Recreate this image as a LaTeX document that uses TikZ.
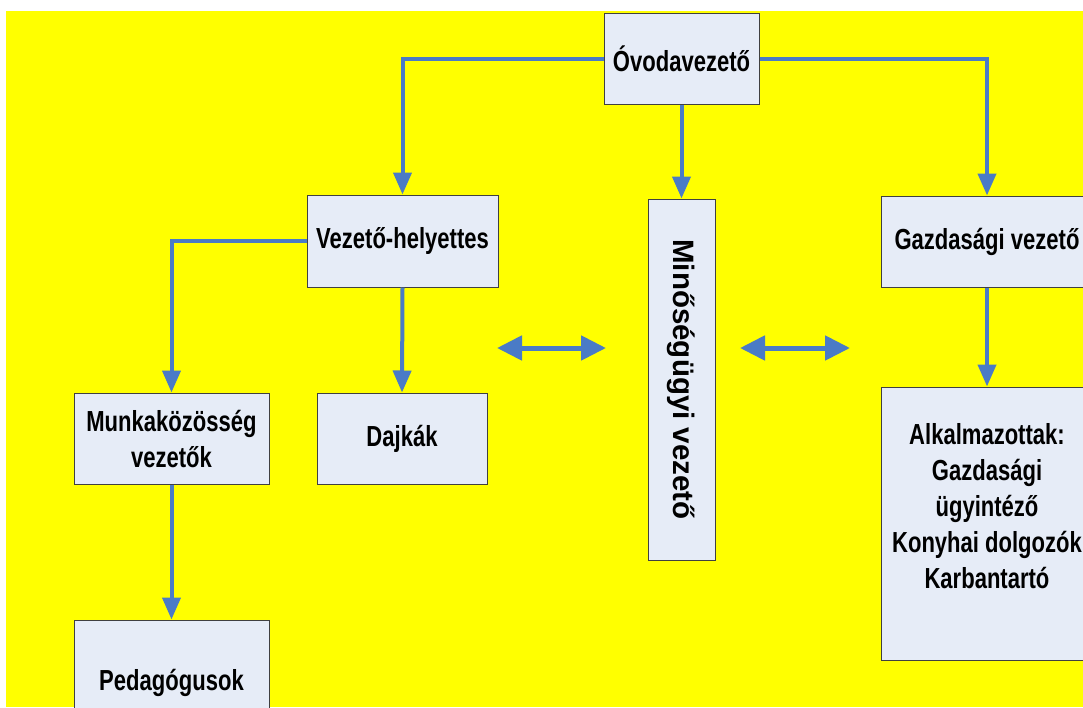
\documentclass[tikz,border=0pt]{standalone}
\usepackage{fontspec}
\setmainfont{Liberation Sans}[FakeStretch=0.76]
\newfontfamily\widefont{Liberation Sans}
\usepackage{tikz}
\usetikzlibrary{arrows.meta, positioning}
\definecolor{boxfill}{HTML}{E6ECF7}
\definecolor{linkblue}{HTML}{4A7BC6}
\definecolor{bgyellow}{HTML}{FFFF00}

\begin{document}
\begin{tikzpicture}[x=1pt, y=-1pt, >={Triangle[length=22pt, width=18pt]},
  font=\fontsize{29}{36}\selectfont\bfseries,
  box/.style={draw=black!75, line width=1pt, fill=boxfill, rectangle, align=center, inner sep=0pt},
  link/.style={->, linkblue, line width=4pt},
  both/.style={{Triangle[length=25pt, width=24pt]}-{Triangle[length=25pt, width=24pt]}, linkblue, line width=5pt}]
  \useasboundingbox (0,0) rectangle (1083,707);
  \clip (0,0) rectangle (1083,707);
  \fill[bgyellow] (6,11) rectangle (1083,707);

  % top row
  \node[box, minimum width=155, minimum height=91] (head) at (681.5,59) {Óvodavezető};
  \node[box, minimum width=191, minimum height=92] (deputy) at (402.5,241) {Vezető-helyettes};
  \node[box, minimum width=67, minimum height=361] (quality) at (681.5,379.5) {\rotatebox{-90}{\widefont\fontsize{29.5}{36}\selectfont\bfseries Minőségügyi vezető}};
  \node[box, minimum width=212, minimum height=91] (finance) at (987,241.5) {Gazdasági vezető};

  % lower boxes
  \node[box, minimum width=195, minimum height=91] (teams) at (171.5,438.5) {Munkaközösség\\vezetők};
  \node[box, minimum width=170, minimum height=91] (nannies) at (402,438.5) {Dajkák};
  \node[box, minimum width=195, minimum height=126] (teachers) at (171.5,683) {Pedagógusok};
  \node[box, minimum width=212, minimum height=273] (staff) at (987,523.5) {Alkalmazottak:\\Gazdasági\\ügyintéző\\Konyhai dolgozók\\Karbantartó\\\mbox{}};

  \draw[link] (head.west) -| (deputy.north);
  \draw[link] (head.east) -| (finance.north);
  \draw[link] (head.south) -- (quality.north);
  \draw[link] (deputy.west) -| (teams.north);
  \draw[link] (deputy.south) -- (nannies.north);
  \draw[link] (teams.south) -- (teachers.north);
  \draw[link] (finance.south) -- (staff.north);

  % double arrows
  \coordinate (leftA) at (497,348);
  \coordinate (leftB) at (606,348);
  \coordinate (rightA) at (740,348);
  \coordinate (rightB) at (850,348);
  \draw[both] (leftA) -- (leftB);
  \draw[both] (rightA) -- (rightB);
\end{tikzpicture}
\end{document}
